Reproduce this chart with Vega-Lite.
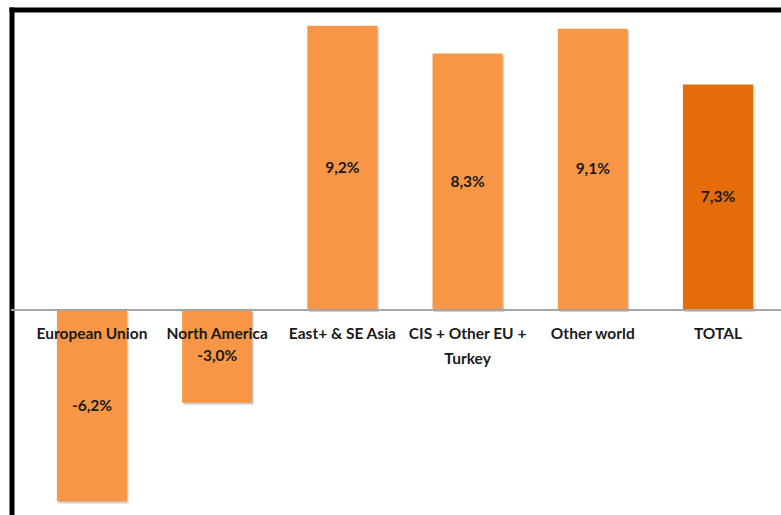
{
  "$schema": "https://vega.github.io/schema/vega-lite/v6.json",
  "width": 769.5,
  "height": 505.5,
  "padding": {"left": 11.5, "top": 9.5, "right": 0, "bottom": 0},
  "autosize": {"type": "none"},
  "background": "white",
  "config": {"view": {"stroke": null}},
  "data": {
    "values": [
      {"region": "European Union", "name": "European Union", "value": -6.2, "label": "-6,2%", "kind": "region"},
      {"region": "North America", "name": "North America", "value": -3.0, "label": "-3,0%", "kind": "region"},
      {"region": "East+ & SE Asia", "name": "East+ & SE Asia", "value": 9.2, "label": "9,2%", "kind": "region"},
      {"region": "CIS + Other EU + Turkey", "name": "CIS + Other EU +\nTurkey", "value": 8.3, "label": "8,3%", "kind": "region"},
      {"region": "Other world", "name": "Other world", "value": 9.1, "label": "9,1%", "kind": "region"},
      {"region": "TOTAL", "name": "TOTAL", "value": 7.3, "label": "7,3%", "kind": "total"}
    ]
  },
  "encoding": {
    "x": {
      "field": "region",
      "type": "nominal",
      "sort": null,
      "scale": {"paddingInner": 0.44, "paddingOuter": 0.293, "align": 0.619},
      "axis": {"orient": "top", "domain": true, "domainColor": "black", "domainWidth": 5, "domainCap": "square", "ticks": false, "labels": false, "grid": false, "title": null}
    }
  },
  "layer": [
    {
      "mark": {"type": "bar", "color": "#9a9a9a", "opacity": 0.45, "xOffset": 1.5, "yOffset": 2},
      "encoding": {
        "y": {
          "field": "value",
          "type": "quantitative",
          "scale": {"domain": [-6.634, 9.725], "nice": false, "zero": false},
          "axis": {"orient": "left", "domain": true, "domainColor": "black", "domainWidth": 5, "domainCap": "square", "ticks": false, "labels": false, "grid": false, "title": null}
        }
      }
    },
    {
      "mark": {"type": "bar"},
      "encoding": {
        "y": {"field": "value", "type": "quantitative"},
        "color": {
          "field": "kind",
          "type": "nominal",
          "scale": {"domain": ["region", "total"], "range": ["#F79646", "#E46C0A"]},
          "legend": null
        }
      }
    },
    {
      "mark": {"type": "rule", "color": "#a6a6a6", "strokeWidth": 1.5},
      "encoding": {"y": {"datum": 0}, "x": null}
    },
    {
      "transform": [{"calculate": "datum.value / 2", "as": "mid"}],
      "mark": {"type": "text", "font": "Lato", "fontWeight": "bold", "fontSize": 15.5, "color": "#1a1a1a", "baseline": "middle", "align": "center"},
      "encoding": {
        "y": {"field": "mid", "type": "quantitative"},
        "text": {"field": "label"}
      }
    },
    {
      "mark": {"type": "text", "font": "Lato", "fontWeight": "bold", "fontSize": 15.5, "color": "#1a1a1a", "baseline": "top", "align": "center", "dy": 17, "lineBreak": "\n", "lineHeight": 25},
      "encoding": {
        "y": {"datum": 0},
        "text": {"field": "name"}
      }
    }
  ]
}
